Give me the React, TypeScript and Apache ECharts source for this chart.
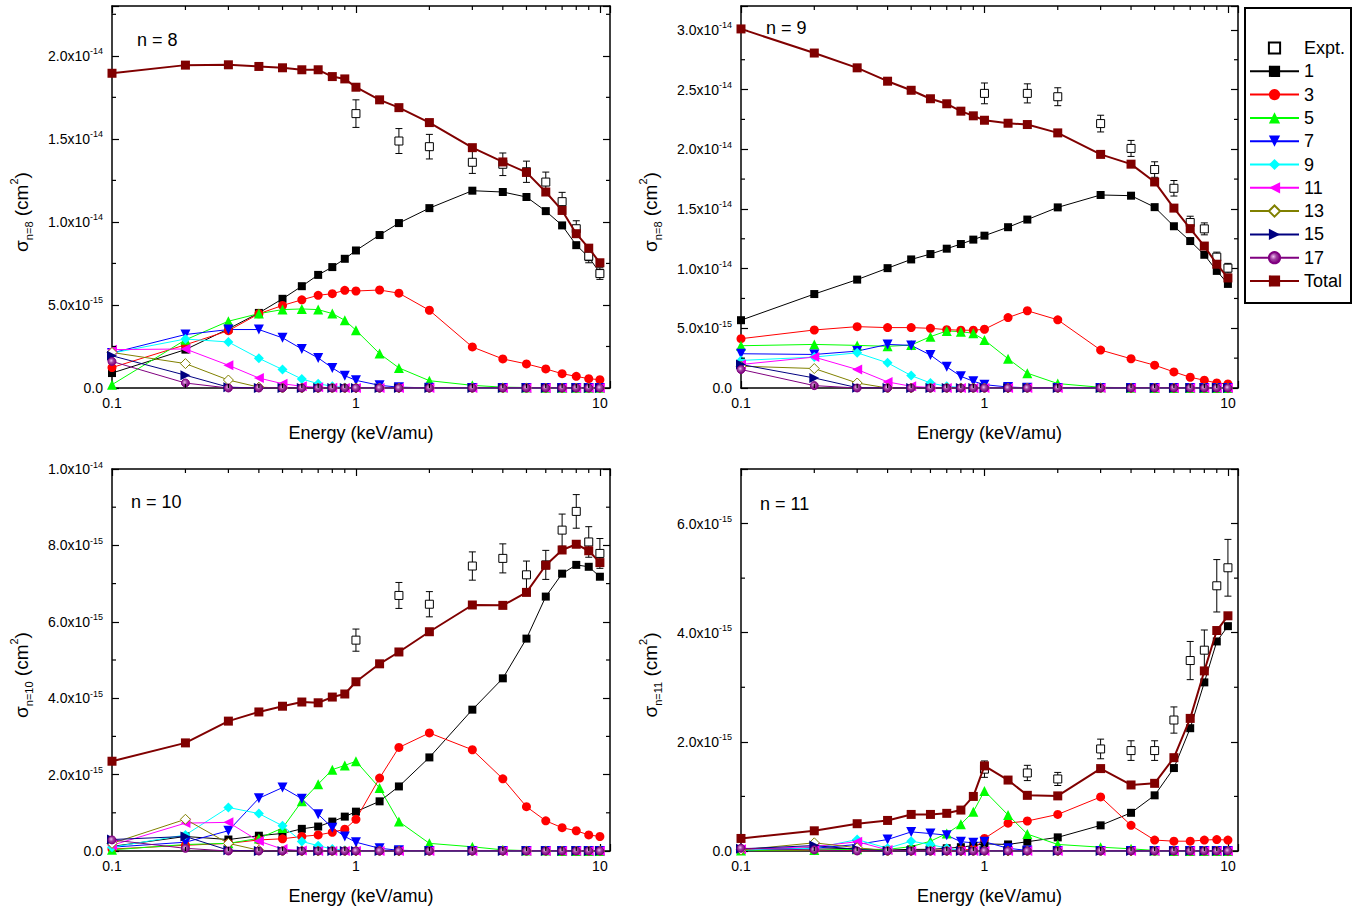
import React, { useEffect, useRef } from "react";
import * as echarts from "echarts";

const FONT = "'Liberation Sans', Arial, Helvetica, sans-serif";

// Energies (keV/amu)
const energy = [0.1, 0.2, 0.3, 0.4, 0.5, 0.6, 0.7, 0.8, 0.9, 1.0, 1.25, 1.5, 2, 3, 4, 5, 6, 7, 8, 9, 10];
const exptEnergy = [1, 1.5, 2, 3, 4, 5, 6, 7, 8, 9, 10];
const xMinorTicks = [0.2, 0.3, 0.4, 0.5, 0.6, 0.7, 0.8, 0.9, 2, 3, 4, 5, 6, 7, 8, 9];

// Cross sections in units of 1e-15 cm^2
// n = 8
const total8 = [18.95, 19.44, 19.46, 19.36, 19.28, 19.16, 19.16, 18.75, 18.61, 18.11, 17.35, 16.88, 15.98, 14.47, 13.61, 12.98, 11.8, 10.69, 9.29, 8.42, 7.54];
const s1_8 = [0.9, 2.31, 3.56, 4.52, 5.37, 6.13, 6.81, 7.28, 7.78, 8.28, 9.21, 9.93, 10.83, 11.88, 11.8, 11.5, 10.65, 9.79, 8.6, 7.88, 6.93];
const s3_8 = [1.23, 2.6, 3.45, 4.47, 4.97, 5.31, 5.58, 5.68, 5.88, 5.84, 5.9, 5.71, 4.68, 2.47, 1.75, 1.45, 1.15, 0.86, 0.7, 0.56, 0.5];
const s5_8 = [0.2, 2.9, 4.02, 4.48, 4.72, 4.76, 4.72, 4.48, 4.08, 3.48, 2.07, 1.21, 0.44, 0.16, 0.05, 0.03, 0.02, 0.01, 0.01, 0.01, 0.01];
const s7_8 = [2.11, 3.22, 3.52, 3.52, 3.02, 2.35, 1.81, 1.21, 0.74, 0.46, 0.16, 0.05, 0.01, 0, 0, 0, 0, 0, 0, 0, 0];
const s9_8 = [2.1, 2.95, 2.77, 1.79, 1.11, 0.54, 0.26, 0.1, 0.03, 0.01, 0, 0, 0, 0, 0, 0, 0, 0, 0, 0, 0];
const s11_8 = [2.31, 2.35, 1.37, 0.6, 0.26, 0.1, 0.04, 0.01, 0, 0, 0, 0, 0, 0, 0, 0, 0, 0, 0, 0, 0];
const s13_8 = [2.14, 1.47, 0.48, 0.05, 0, 0, 0, 0, 0, 0, 0, 0, 0, 0, 0, 0, 0, 0, 0, 0, 0];
const s15_8 = [1.94, 0.77, 0.05, 0, 0, 0, 0, 0, 0, 0, 0, 0, 0, 0, 0, 0, 0, 0, 0, 0, 0];
const s17_8 = [1.6, 0.3, 0, 0, 0, 0, 0, 0, 0, 0, 0, 0, 0, 0, 0, 0, 0, 0, 0, 0, 0];
const expt8 = [16.52, 14.87, 14.53, 13.59, 13.47, 13.02, 12.4, 11.22, 9.59, 7.94, 6.89];
const err8 = [0.83, 0.75, 0.74, 0.67, 0.68, 0.64, 0.6, 0.56, 0.48, 0.4, 0.35];

// n = 9
const total9 = [30.08, 28.06, 26.82, 25.7, 24.94, 24.23, 23.81, 23.19, 22.8, 22.43, 22.18, 22.07, 21.37, 19.57, 18.75, 17.26, 15.07, 13.35, 11.89, 10.37, 9.22];
const s1_9 = [5.68, 7.87, 9.08, 10.04, 10.77, 11.22, 11.67, 12.06, 12.43, 12.76, 13.47, 14.11, 15.13, 16.17, 16.11, 15.15, 13.55, 12.31, 11.16, 9.81, 8.72];
const s3_9 = [4.13, 4.86, 5.14, 5.06, 5.06, 5.0, 4.89, 4.84, 4.84, 4.92, 5.9, 6.47, 5.71, 3.18, 2.45, 1.91, 1.35, 0.9, 0.65, 0.42, 0.34];
const s5_9 = [3.54, 3.65, 3.57, 3.49, 3.6, 4.3, 4.78, 4.72, 4.58, 4.02, 2.45, 1.24, 0.37, 0.06, 0.02, 0.01, 0.01, 0.01, 0.01, 0.01, 0.01];
const s7_9 = [2.87, 2.81, 3.09, 3.65, 3.57, 2.76, 1.77, 0.98, 0.56, 0.28, 0.08, 0.02, 0, 0, 0, 0, 0, 0, 0, 0, 0];
const s9_9 = [2.31, 2.59, 2.95, 2.11, 1.04, 0.42, 0.14, 0.05, 0.01, 0, 0, 0, 0, 0, 0, 0, 0, 0, 0, 0, 0];
const s11_9 = [1.97, 2.59, 1.55, 0.51, 0.14, 0.04, 0, 0, 0, 0, 0, 0, 0, 0, 0, 0, 0, 0, 0, 0, 0];
const s13_9 = [1.83, 1.63, 0.42, 0, 0, 0, 0, 0, 0, 0, 0, 0, 0, 0, 0, 0, 0, 0, 0, 0, 0];
const s15_9 = [1.97, 0.84, 0.03, 0, 0, 0, 0, 0, 0, 0, 0, 0, 0, 0, 0, 0, 0, 0, 0, 0, 0];
const s17_9 = [1.55, 0.2, 0, 0, 0, 0, 0, 0, 0, 0, 0, 0, 0, 0, 0, 0, 0, 0, 0, 0, 0];
const expt9 = [24.68, 24.68, 24.4, 22.15, 20.07, 18.3, 16.73, 13.86, 13.33, 10.96, 10.04];
const err9 = [0.87, 0.8, 0.75, 0.7, 0.67, 0.65, 0.65, 0.53, 0.5, 0.42, 0.4];

// n = 10
const total10 = [2.35, 2.83, 3.4, 3.64, 3.79, 3.9, 3.88, 4.03, 4.11, 4.43, 4.9, 5.21, 5.74, 6.44, 6.43, 6.77, 7.48, 7.88, 8.03, 7.86, 7.55];
const s1_10 = [0.12, 0.38, 0.3, 0.4, 0.46, 0.58, 0.64, 0.77, 0.9, 1.03, 1.3, 1.69, 2.45, 3.7, 4.52, 5.56, 6.66, 7.26, 7.49, 7.44, 7.18];
const s3_10 = [0.05, 0.15, 0.2, 0.29, 0.32, 0.38, 0.42, 0.49, 0.57, 0.83, 1.91, 2.71, 3.09, 2.65, 1.89, 1.16, 0.79, 0.61, 0.53, 0.42, 0.38];
const s5_10 = [0.03, 0.17, 0.2, 0.33, 0.6, 1.3, 1.75, 2.13, 2.24, 2.35, 1.65, 0.77, 0.2, 0.11, 0.03, 0.01, 0.01, 0, 0, 0, 0];
const s7_10 = [0.1, 0.23, 0.53, 1.38, 1.66, 1.37, 0.96, 0.61, 0.38, 0.23, 0.07, 0.02, 0, 0, 0, 0, 0, 0, 0, 0, 0];
const s9_10 = [0.1, 0.42, 1.14, 0.98, 0.66, 0.25, 0.14, 0.05, 0.02, 0, 0, 0, 0, 0, 0, 0, 0, 0, 0, 0, 0];
const s11_10 = [0.15, 0.73, 0.75, 0.26, 0.05, 0.01, 0, 0, 0, 0, 0, 0, 0, 0, 0, 0, 0, 0, 0, 0, 0];
const s13_10 = [0.2, 0.83, 0.2, 0.02, 0, 0, 0, 0, 0, 0, 0, 0, 0, 0, 0, 0, 0, 0, 0, 0, 0];
const s15_10 = [0.3, 0.38, 0.02, 0, 0, 0, 0, 0, 0, 0, 0, 0, 0, 0, 0, 0, 0, 0, 0, 0, 0];
const s17_10 = [0.29, 0.07, 0, 0, 0, 0, 0, 0, 0, 0, 0, 0, 0, 0, 0, 0, 0, 0, 0, 0, 0];
const expt10 = [5.52, 6.69, 6.46, 7.46, 7.66, 7.23, 7.49, 8.4, 8.89, 8.09, 7.79];
const err10 = [0.29, 0.34, 0.33, 0.37, 0.38, 0.36, 0.38, 0.42, 0.44, 0.4, 0.39];

// n = 11
const total11 = [0.23, 0.37, 0.5, 0.56, 0.67, 0.67, 0.69, 0.75, 1.0, 1.56, 1.3, 1.02, 1.01, 1.51, 1.21, 1.24, 1.71, 2.43, 3.3, 4.04, 4.31];
const s1_11 = [0.01, 0.06, 0.04, 0.02, 0.03, 0.03, 0.05, 0.07, 0.1, 0.13, 0.12, 0.17, 0.25, 0.47, 0.7, 1.02, 1.52, 2.25, 3.09, 3.84, 4.12];
const s3_11 = [0.01, 0.01, 0.01, 0.01, 0.01, 0.01, 0.02, 0.02, 0.03, 0.23, 0.51, 0.55, 0.67, 0.99, 0.47, 0.2, 0.18, 0.18, 0.2, 0.21, 0.2];
const s5_11 = [0.01, 0.02, 0.03, 0.03, 0.08, 0.18, 0.32, 0.49, 0.72, 1.1, 0.66, 0.31, 0.12, 0.07, 0.04, 0.01, 0, 0, 0, 0, 0];
const s7_11 = [0.02, 0.05, 0.12, 0.21, 0.35, 0.32, 0.29, 0.17, 0.15, 0.17, 0.05, 0.01, 0, 0, 0, 0, 0, 0, 0, 0, 0];
const s9_11 = [0.02, 0.05, 0.21, 0.05, 0.18, 0.12, 0.05, 0.01, 0, 0, 0, 0, 0, 0, 0, 0, 0, 0, 0, 0, 0];
const s11_11 = [0.03, 0.08, 0.17, 0.02, 0, 0, 0, 0, 0, 0, 0, 0, 0, 0, 0, 0, 0, 0, 0, 0, 0];
const s13_11 = [0.02, 0.15, 0.06, 0, 0, 0, 0, 0, 0, 0, 0, 0, 0, 0, 0, 0, 0, 0, 0, 0, 0];
const s15_11 = [0.04, 0.1, 0.03, 0, 0, 0, 0, 0, 0, 0, 0, 0, 0, 0, 0, 0, 0, 0, 0, 0, 0];
const s17_11 = [0.05, 0.02, 0, 0, 0, 0, 0, 0, 0, 0, 0, 0, 0, 0, 0, 0, 0, 0, 0, 0, 0];
const expt11 = [1.5, 1.43, 1.32, 1.87, 1.84, 1.84, 2.4, 3.49, 3.68, 4.86, 5.19];
const err11 = [0.15, 0.14, 0.12, 0.18, 0.18, 0.18, 0.24, 0.35, 0.37, 0.48, 0.52];

// Y axis ranges (1e-15 units)
const yMax = [23, 32, 10, 7];
const yStep = [5, 5, 2, 2];
const yMinor8 = [2.5, 7.5, 12.5, 17.5, 22.5];
const yMinor9 = [2.5, 7.5, 12.5, 17.5, 22.5, 27.5];
const yMinor10 = [1, 3, 5, 7, 9];
const yMinor11 = [1, 3, 5];

const legendNames = ["Expt.", "1", "3", "5", "7", "9", "11", "13", "15", "17", "Total"];

const panels = [
  { label: "n = 8", sub: "n=8", comps: [s1_8, s3_8, s5_8, s7_8, s9_8, s11_8, s13_8, s15_8, s17_8], total: total8, expt: expt8, err: err8, yMinor: yMinor8 },
  { label: "n = 9", sub: "n=8", comps: [s1_9, s3_9, s5_9, s7_9, s9_9, s11_9, s13_9, s15_9, s17_9], total: total9, expt: expt9, err: err9, yMinor: yMinor9 },
  { label: "n = 10", sub: "n=10", comps: [s1_10, s3_10, s5_10, s7_10, s9_10, s11_10, s13_10, s15_10, s17_10], total: total10, expt: expt10, err: err10, yMinor: yMinor10 },
  { label: "n = 11", sub: "n=11", comps: [s1_11, s3_11, s5_11, s7_11, s9_11, s11_11, s13_11, s15_11, s17_11], total: total11, expt: expt11, err: err11, yMinor: yMinor11 },
];

// Layout / style
const grids = [
  { left: 112, top: 6, width: 498, height: 382 },
  { left: 741, top: 6, width: 497, height: 382 },
  { left: 112, top: 469, width: 498, height: 382 },
  { left: 741, top: 469, width: 497, height: 382 },
];
const labelPos = [
  { x: 137, y: 40 },
  { x: 766, y: 28 },
  { x: 131, y: 502 },
  { x: 760, y: 504 },
];

const purpleFill = new echarts.graphic.RadialGradient(0.4, 0.4, 0.6, [
  { offset: 0, color: "#f0c0f0" },
  { offset: 0.45, color: "#a040a0" },
  { offset: 1, color: "#800080" },
]);

const compStyles: any[] = [
  { name: "1", color: "#000000", symbol: "rect", size: 8 },
  { name: "3", color: "#ff0000", symbol: "circle", size: 9 },
  { name: "5", color: "#00ff00", symbol: "triangle", size: 10 },
  { name: "7", color: "#0000ff", symbol: "triangle", size: 10, rotate: 180 },
  { name: "9", color: "#00ffff", symbol: "diamond", size: 10 },
  { name: "11", color: "#ff00ff", symbol: "triangle", size: 10, rotate: 90 },
  { name: "13", color: "#808000", symbol: "diamond", size: 10, fill: "#ffffff" },
  { name: "15", color: "#000080", symbol: "triangle", size: 10, rotate: -90 },
  { name: "17", color: "#800080", symbol: "circle", size: 8, fill: purpleFill },
];

const xLabel = (v: number) => {
  const l = Math.log10(v);
  const r = Math.round(l);
  if (Math.abs(l - r) > 1e-6) return "";
  return r === -1 ? "0.1" : r === 0 ? "1" : r === 1 ? "10" : String(v);
};

const yLabel = (step: number) => (v: number) => {
  if (Math.abs(v / step - Math.round(v / step)) > 1e-6) return "";
  if (Math.abs(v) < 1e-9) return "{m|0.0}";
  const e = Math.floor(Math.log10(v) + 1e-9);
  const mant = v / Math.pow(10, e);
  return `{m|${mant.toFixed(1)}x10}{e|${e - 15}}`;
};

function buildOption() {
  const xAxis: any[] = [];
  const yAxis: any[] = [];
  const series: any[] = [];
  const axisLine = { show: true, onZero: false, lineStyle: { color: "#000", width: 1.5 } };
  const axisTick = { show: true, inside: true, length: 7, lineStyle: { color: "#000", width: 1.2 } };

  for (let i = 0; i < 4; i++) {
    xAxis.push({
      type: "log", logBase: 10, gridIndex: i, min: 0.1, max: 11, position: "bottom",
      axisLine, axisTick, splitLine: { show: false }, minorTick: { show: false },
      axisLabel: { formatter: xLabel, margin: 8, fontSize: 14, color: "#000", fontFamily: FONT },
      name: "Energy (keV/amu)", nameLocation: "middle", nameGap: 36,
      nameTextStyle: { fontSize: 18, color: "#000", fontFamily: FONT },
    });
  }
  for (let i = 0; i < 4; i++) {
    xAxis.push({
      type: "log", logBase: 10, gridIndex: i, min: 0.1, max: 11, position: "top",
      axisLine, axisTick, splitLine: { show: false }, axisLabel: { show: false },
    });
  }
  for (let i = 0; i < 4; i++) {
    yAxis.push({
      type: "value", gridIndex: i, min: 0, max: yMax[i], interval: yStep[i], position: "left",
      axisLine, axisTick, splitLine: { show: false },
      axisLabel: {
        formatter: yLabel(yStep[i]), margin: 9, color: "#000", fontFamily: FONT,
        rich: {
          m: { fontSize: 14, lineHeight: 18, color: "#000", fontFamily: FONT },
          e: { fontSize: 9, lineHeight: 10, verticalAlign: "top", color: "#000", fontFamily: FONT },
        },
      },
      name: `{s|σ}{b|${panels[i].sub}}{s| (cm}{t|2}{s|)}`,
      nameLocation: "middle", nameRotate: 90, nameGap: 78,
      nameTextStyle: {
        color: "#000", fontFamily: FONT, padding: [0, 30, 0, 0],
        rich: {
          s: { fontSize: 19, lineHeight: 26, color: "#000", fontFamily: FONT },
          b: { fontSize: 11, lineHeight: 11, verticalAlign: "bottom", color: "#000", fontFamily: FONT },
          t: { fontSize: 11, lineHeight: 11, verticalAlign: "top", color: "#000", fontFamily: FONT },
        },
      },
    });
  }
  for (let i = 0; i < 4; i++) {
    yAxis.push({
      type: "value", gridIndex: i, min: 0, max: yMax[i], interval: yStep[i], position: "right",
      axisLine, axisTick, splitLine: { show: false }, axisLabel: { show: false },
    });
  }

  panels.forEach((p, i) => {
    // components
    compStyles.forEach((c, k) => {
      series.push({
        type: "line", name: c.name, xAxisIndex: i, yAxisIndex: i,
        data: energy.map((e, j) => [e, p.comps[k][j]]),
        symbol: c.symbol, symbolSize: c.size, symbolRotate: c.rotate || 0,
        itemStyle: { color: c.fill || c.color, borderColor: c.color, borderWidth: c.fill ? 1 : 0 },
        lineStyle: { color: c.color, width: 1 },
        z: 2, emphasis: { disabled: true }, silent: true,
      });
    });
    // error bars
    series.push({
      type: "custom", xAxisIndex: i, yAxisIndex: i, z: 3, silent: true,
      data: exptEnergy.map((e, j) => [e, p.expt[j] - p.err[j], p.expt[j] + p.err[j]]),
      renderItem: (params: any, api: any) => {
        const lo = api.coord([api.value(0), api.value(1)]);
        const hi = api.coord([api.value(0), api.value(2)]);
        const w = 3.5;
        const st = { stroke: "#000", lineWidth: 1 };
        return {
          type: "group",
          children: [
            { type: "line", shape: { x1: lo[0], y1: lo[1], x2: hi[0], y2: hi[1] }, style: st },
            { type: "line", shape: { x1: lo[0] - w, y1: lo[1], x2: lo[0] + w, y2: lo[1] }, style: st },
            { type: "line", shape: { x1: hi[0] - w, y1: hi[1], x2: hi[0] + w, y2: hi[1] }, style: st },
          ],
        };
      },
    });
    // experiment
    series.push({
      type: "line", name: "Expt.", xAxisIndex: i, yAxisIndex: i,
      data: exptEnergy.map((e, j) => [e, p.expt[j]]),
      symbol: "rect", symbolSize: 8,
      itemStyle: { color: "#ffffff", borderColor: "#000", borderWidth: 1 },
      lineStyle: { width: 0, opacity: 0, color: "rgba(0,0,0,0)" },
      z: 4, emphasis: { disabled: true }, silent: true,
    });
    // total
    series.push({
      type: "line", name: "Total", xAxisIndex: i, yAxisIndex: i,
      data: energy.map((e, j) => [e, p.total[j]]),
      symbol: "rect", symbolSize: 9,
      itemStyle: { color: "#800000", borderWidth: 0 },
      lineStyle: { color: "#800000", width: 2 },
      z: 5, emphasis: { disabled: true }, silent: true,
    });
    // minor ticks on x (bottom and top)
    series.push({
      type: "custom", xAxisIndex: i, yAxisIndex: i, z: 6, silent: true,
      data: xMinorTicks.map((v) => [v, 0]),
      renderItem: (params: any, api: any) => {
        const cs = params.coordSys;
        const pt = api.coord([api.value(0), 0]);
        const st = { stroke: "#000", lineWidth: 1.2 };
        const b = cs.y + cs.height;
        return {
          type: "group",
          children: [
            { type: "line", shape: { x1: pt[0], y1: b, x2: pt[0], y2: b - 4 }, style: st },
            { type: "line", shape: { x1: pt[0], y1: cs.y, x2: pt[0], y2: cs.y + 4 }, style: st },
          ],
        };
      },
    });
    // minor ticks on y (left and right)
    series.push({
      type: "custom", xAxisIndex: i, yAxisIndex: i, z: 6, silent: true,
      data: p.yMinor.map((v) => [1, v]),
      renderItem: (params: any, api: any) => {
        const cs = params.coordSys;
        const pt = api.coord([1, api.value(1)]);
        const st = { stroke: "#000", lineWidth: 1.2 };
        const r = cs.x + cs.width;
        return {
          type: "group",
          children: [
            { type: "line", shape: { x1: cs.x, y1: pt[1], x2: cs.x + 4, y2: pt[1] }, style: st },
            { type: "line", shape: { x1: r, y1: pt[1], x2: r - 4, y2: pt[1] }, style: st },
          ],
        };
      },
    });
  });

  const graphic: any[] = [
    {
      type: "rect", x: 1245, y: 8, shape: { x: 0, y: 0, width: 106, height: 295 },
      style: { fill: "none", stroke: "#000", lineWidth: 2 }, z: 10,
    },
  ];
  panels.forEach((p, i) => {
    graphic.push({
      type: "text", x: labelPos[i].x, y: labelPos[i].y,
      style: { text: p.label, fontSize: 18, fontFamily: FONT, fill: "#000", verticalAlign: "middle" },
      z: 10,
    });
  });

  return {
    animation: false,
    backgroundColor: "#ffffff",
    textStyle: { fontFamily: FONT },
    grid: grids.map((g) => ({ ...g, containLabel: false })),
    xAxis,
    yAxis,
    legend: {
      data: legendNames, orient: "vertical", left: 1249, top: 39, padding: 0,
      itemWidth: 49, itemHeight: 14, itemGap: 5.3, selectedMode: false,
      textStyle: { fontSize: 18, color: "#000", fontFamily: FONT },
    },
    graphic,
    series,
  };
}

export default function App() {
  const ref = useRef<HTMLDivElement>(null);
  useEffect(() => {
    const chart = echarts.init(ref.current!, null, { renderer: "svg" });
    chart.setOption(buildOption() as any);
    return () => chart.dispose();
  }, []);
  return (
    <div
      ref={ref}
      style={{ position: "fixed", left: 0, top: 0, width: 1361, height: 912, background: "#fff" }}
    />
  );
}
